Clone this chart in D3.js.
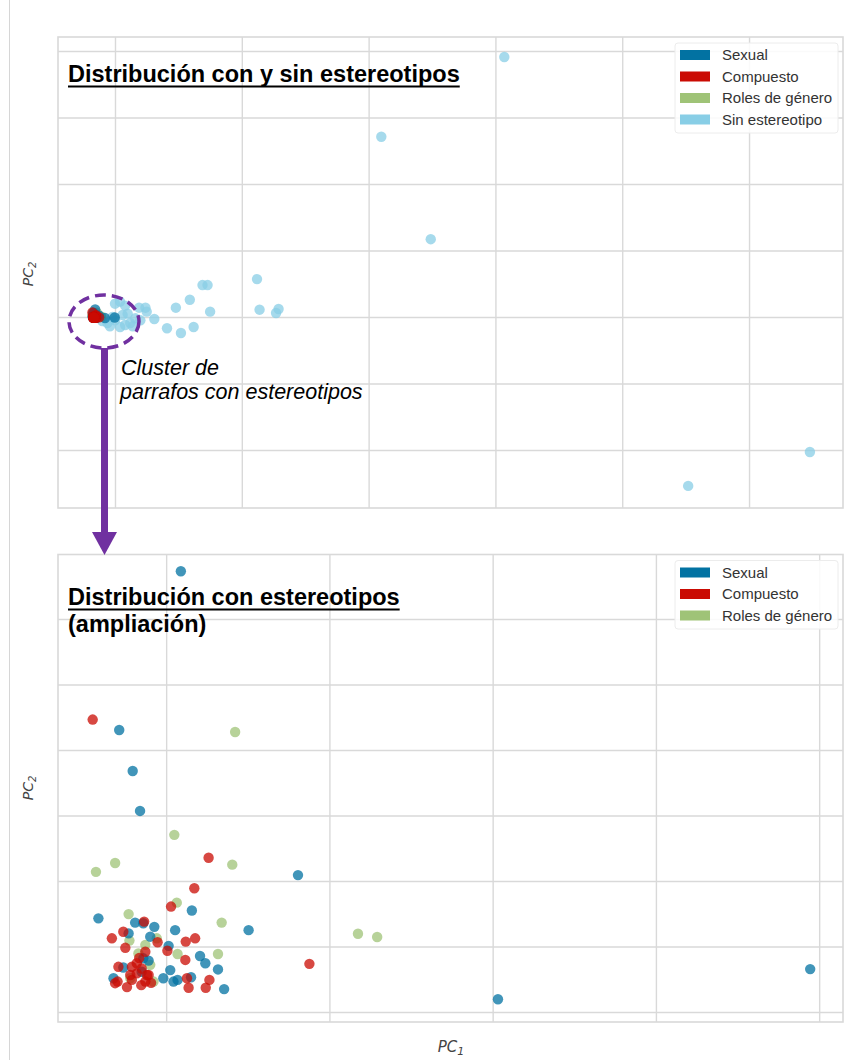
<!DOCTYPE html>
<html>
<head>
<meta charset="utf-8">
<script src="https://cdn.jsdelivr.net/npm/d3@7"></script>
<style>
  body { margin: 0; background: #fff; }
  text { font-family: "Liberation Sans", Arial, sans-serif; }
</style>
</head>
<body>
<svg id="chart" width="845" height="1060"></svg>
<script>
// series (PCA coordinates, same space for both panels)
const categories = ["Sexual", "Compuesto", "Roles de género", "Sin estereotipo"];
const colors = ["#0272a2", "#ca0b03", "#9fc377", "#88cee6"];

const sexual = [
  [-0.1564, 0.1146], [-0.1715, 0.0661], [-0.1682, 0.0536], [-0.1664, 0.0414], [-0.1277, 0.0218],
  [-0.1537, 0.0110], [-0.1766, 0.0086], [-0.1398, 0.0050], [-0.1676, 0.0073], [-0.1656, 0.0071],
  [-0.1629, 0.0060], [-0.1578, 0.0050], [-0.1692, 0.0040], [-0.1639, 0.0030], [-0.1594, 0.0002],
  [-0.1517, -0.0029], [-0.1504, -0.0051], [-0.1473, -0.0070], [-0.1458, -0.0130], [-0.1539, -0.0094],
  [-0.1590, -0.0072], [-0.1607, -0.0097], [-0.1582, -0.0107], [-0.1572, -0.0102], [-0.1656, -0.0036],
  [-0.1643, -0.0043], [-0.1705, -0.0064], [-0.1729, -0.0097], [-0.1660, -0.0077], [-0.0022, -0.0069],
  [-0.0787, -0.0161]
];
const compuesto = [
  [-0.1780, 0.0693], [-0.1496, 0.0271], [-0.1531, 0.0178], [-0.1588, 0.0122], [-0.1654, 0.0076],
  [-0.1705, 0.0045], [-0.1733, 0.0025], [-0.1700, -0.0004], [-0.1621, 0.0013], [-0.1552, 0.0015],
  [-0.1529, 0.0025], [-0.1597, -0.0013], [-0.1553, -0.0041], [-0.1249, -0.0053], [-0.1494, -0.0102],
  [-0.1503, -0.0126], [-0.1545, -0.0126], [-0.1549, -0.0097], [-0.1684, -0.0062], [-0.1672, -0.0051],
  [-0.1660, -0.0067], [-0.1672, -0.0082], [-0.1647, -0.0087], [-0.1688, -0.0087], [-0.1651, -0.0107],
  [-0.1684, -0.0102], [-0.1717, -0.0062], [-0.1725, -0.0112], [-0.1719, -0.0107], [-0.1651, -0.0016],
  [-0.1643, -0.0087], [-0.1666, -0.0035], [-0.1637, -0.0111], [-0.1696, -0.0124], [-0.1661, -0.0118]
];
const roles = [
  [-0.1431, 0.0655], [-0.1580, 0.0341], [-0.1725, 0.0255], [-0.1772, 0.0228], [-0.1438, 0.0250],
  [-0.1574, 0.0134], [-0.1692, 0.0099], [-0.1464, 0.0073], [-0.1130, 0.0039], [-0.1083, 0.0029],
  [-0.1473, -0.0023], [-0.1690, 0.0018], [-0.1623, 0.0025], [-0.1572, -0.0023], [-0.1651, 0.0005],
  [-0.1668, -0.0021], [-0.1639, -0.0056], [-0.1631, -0.0107], [-0.1688, -0.0097]
];
const sinEstereotipo = [
  [3.07, 3.91], [2.10, 2.71], [2.49, 1.17], [4.52, -2.54], [5.48, -2.03], [1.12, 0.57], [0.69, 0.48],
  [0.73, 0.48], [0.59, 0.26], [0.48, 0.14], [0.75, 0.08], [1.14, 0.11], [1.29, 0.12], [1.27, 0.06],
  [0.41, -0.17], [0.52, -0.24], [0.62, -0.15], [0.31, -0.03], [0.24, 0.14], [0.19, 0.14], [0.25, 0.08],
  [0.00, -0.05], [0.06, 0.03], [0.12, -0.09], [0.04, -0.15], [-0.06, -0.09], [0.04, 0.23], [0.16, -0.02],
  [-0.04, -0.14], [0.20, -0.05], [0.08, -0.12], [-0.02, 0.00], [0.10, 0.05], [0.14, -0.14], [-0.10, -0.06],
  [0.00, 0.20], [0.08, 0.17]
];

// tick positions (grid only, no labels shown)
const topXTicks = [0, 1, 2, 3, 4, 5];
const topYTicks = [-2, -1, 0, 1, 2, 3, 4];
const zoomXTicks = [-0.16, -0.12, -0.08, -0.04, 0];
const zoomYTicks = [-0.02, 0, 0.02, 0.04, 0.06, 0.08, 0.10];

const svg = d3.select("#chart");
const gridColor = "#d9d9d9";

// thin page edge on the left
svg.append("line").attr("x1", 9.5).attr("x2", 9.5).attr("y1", 0).attr("y2", 1060)
  .attr("stroke", "#d6d6d6").attr("stroke-width", 1);

function panel(cfg) {
  const x = d3.scaleLinear().domain(cfg.xDomain).range([58, 843]);
  const y = d3.scaleLinear().domain(cfg.yDomain).range([cfg.bottom, cfg.top]);
  const g = svg.append("g");
  const h = cfg.bottom - cfg.top;

  g.append("g").attr("transform", `translate(0,${cfg.bottom})`)
    .call(d3.axisBottom(x).tickValues(cfg.xTicks).tickSize(-h).tickFormat(""))
    .call(a => a.select(".domain").remove())
    .call(a => a.selectAll("line").attr("stroke", gridColor).attr("stroke-width", 1.4));
  g.append("g").attr("transform", "translate(58,0)")
    .call(d3.axisLeft(y).tickValues(cfg.yTicks).tickSize(-785).tickFormat(""))
    .call(a => a.select(".domain").remove())
    .call(a => a.selectAll("line").attr("stroke", gridColor).attr("stroke-width", 1.4));
  g.append("rect").attr("x", 58).attr("y", cfg.top).attr("width", 785).attr("height", h)
    .attr("fill", "none").attr("stroke", gridColor).attr("stroke-width", 1.6);

  cfg.series.forEach(s => {
    g.append("g").selectAll("circle").data(s.values).join("circle")
      .attr("cx", d => x(d[0])).attr("cy", d => y(d[1])).attr("r", 5.2)
      .attr("fill", colors[s.idx]).attr("fill-opacity", 0.75);
  });

  // legend
  const n = cfg.legend.length;
  const lg = g.append("g");
  lg.append("rect").attr("x", 675).attr("y", cfg.top + 6).attr("width", 163).attr("height", n * 21.5 + 4)
    .attr("rx", 3).attr("fill", "#fff").attr("fill-opacity", 0.85)
    .attr("stroke", "#ececec").attr("stroke-width", 1);
  cfg.legend.forEach((i, k) => {
    const cy = cfg.top + 18 + k * 21.5;
    lg.append("rect").attr("x", 680).attr("y", cy - 5).attr("width", 30).attr("height", 10)
      .attr("fill", colors[i]);
    lg.append("text").attr("x", 722).attr("y", cy + 5).attr("font-size", 15)
      .attr("fill", "#333").text(categories[i]);
  });

  // PC2 label
  const yl = g.append("text").attr("transform", `translate(33,${cfg.pcY}) rotate(-90)`)
    .attr("text-anchor", "middle").style("font-family", "DejaVu Sans").style("font-style", "italic")
    .attr("font-size", 14).attr("fill", "#444");
  yl.append("tspan").text("PC");
  yl.append("tspan").attr("font-size", 10).attr("dy", 3).text("2");

  return { x, y, g };
}

// top panel: full distribution
panel({
  top: 37, bottom: 508,
  xDomain: [-0.4495, 5.741], yDomain: [-2.872, 4.21],
  xTicks: topXTicks, yTicks: topYTicks,
  series: [
    { idx: 3, values: sinEstereotipo },
    { idx: 2, values: roles },
    { idx: 0, values: sexual },
    { idx: 1, values: compuesto }
  ],
  legend: [0, 1, 2, 3], pcY: 274
});

// bottom panel: zoom on the stereotype cluster
panel({
  top: 554.5, bottom: 1022,
  xDomain: [-0.1865, 0.00584], yDomain: [-0.02305, 0.1197],
  xTicks: zoomXTicks, yTicks: zoomYTicks,
  series: [
    { idx: 2, values: roles },
    { idx: 0, values: sexual },
    { idx: 1, values: compuesto }
  ],
  legend: [0, 1, 2], pcY: 788
});

// PC1 label
const xl = svg.append("text").attr("x", 451).attr("y", 1052).attr("text-anchor", "middle")
  .style("font-family", "DejaVu Sans").style("font-style", "italic").attr("font-size", 15).attr("fill", "#444");
xl.append("tspan").text("PC");
xl.append("tspan").attr("font-size", 11).attr("dy", 3).text("1");

// titles
function title(txt, x, y, underline) {
  const t = svg.append("text").attr("x", x).attr("y", y).attr("font-size", 23.5)
    .attr("font-weight", "bold").attr("fill", "#000").text(txt);
  if (underline) {
    const w = t.node().getComputedTextLength();
    svg.append("line").attr("x1", x).attr("x2", x + w).attr("y1", y + 4.5).attr("y2", y + 4.5)
      .attr("stroke", "#000").attr("stroke-width", 2.2);
  }
}
title("Distribución con y sin estereotipos", 68, 82, true);
title("Distribución con estereotipos", 68, 605, true);
title("(ampliación)", 68, 632, false);

// annotation: circled cluster + arrow
const purple = "#7030a0";
svg.append("ellipse").attr("cx", 104).attr("cy", 321.5).attr("rx", 35).attr("ry", 26.5)
  .attr("fill", "none").attr("stroke", purple).attr("stroke-width", 3.5).attr("stroke-dasharray", "11,6");
svg.append("line").attr("x1", 104.5).attr("x2", 104.5).attr("y1", 348).attr("y2", 534)
  .attr("stroke", purple).attr("stroke-width", 7);
svg.append("path").attr("d", "M92,532 L117,532 L104.5,555 Z").attr("fill", purple);

svg.append("text").attr("x", 121).attr("y", 375).attr("font-size", 21.5).attr("font-style", "italic")
  .attr("fill", "#000").text("Cluster de");
svg.append("text").attr("x", 120).attr("y", 399).attr("font-size", 21.5).attr("font-style", "italic")
  .attr("fill", "#000").text("parrafos con estereotipos");
</script>
</body>
</html>
